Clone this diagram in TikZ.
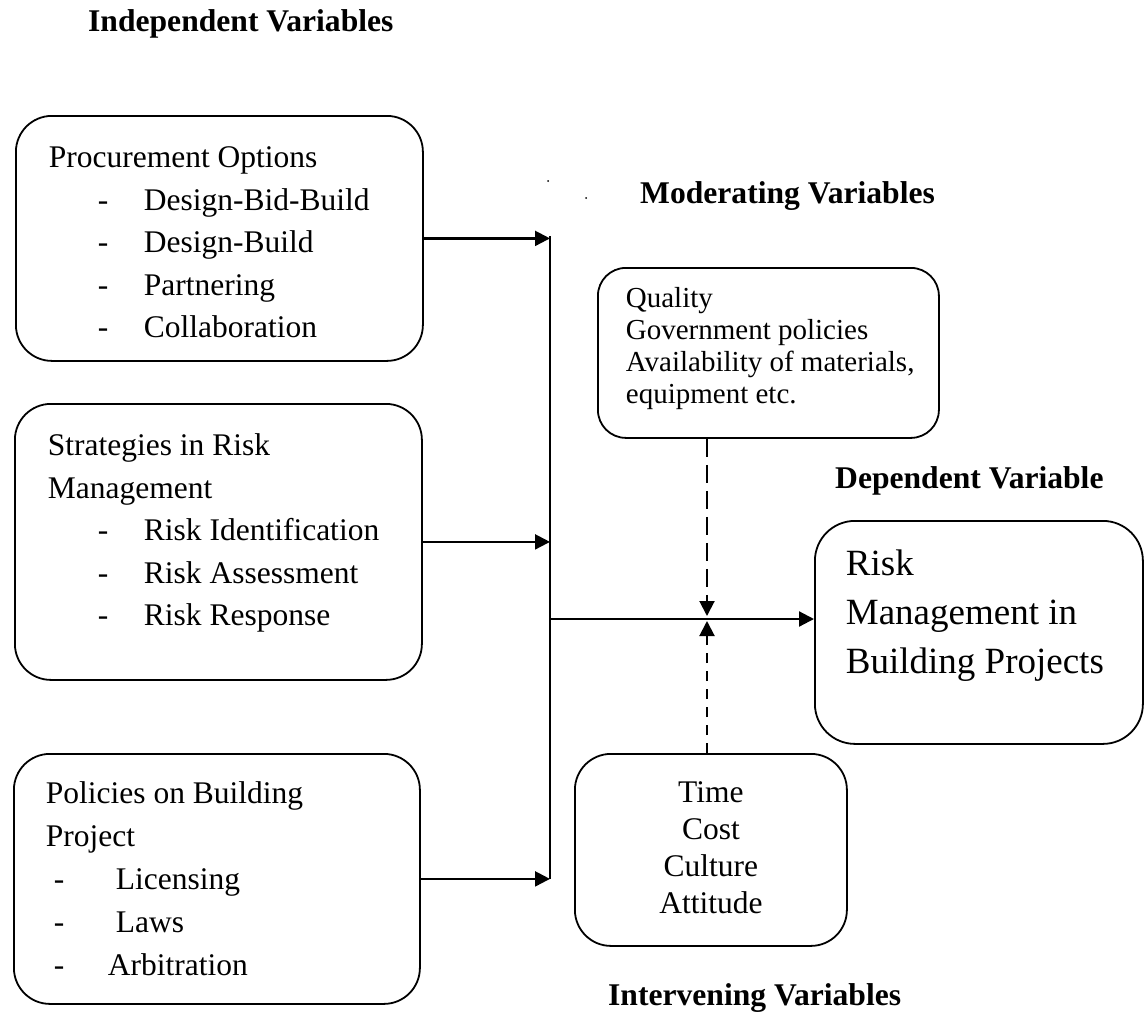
\documentclass[tikz,border=0pt]{standalone}
\usepackage{fontspec}
\setmainfont{Liberation Serif}
\usetikzlibrary{arrows.meta}

\newcommand{\bodyfont}{\fontsize{31.5}{42.5}\selectfont}
\newcommand{\itm}[3]{\makebox[#2][l]{\hspace*{#1}-}#3}
\newcommand{\boxtext}[3]{\parbox[t]{#2}{\raggedright\leftskip=#1\relax #3}}

\tikzset{
  varbox/.style={draw, line width=1.8pt, rounded corners=36pt, inner sep=0pt, anchor=north west},
  heading/.style={font=\fontsize{31.6}{38}\selectfont\bfseries, anchor=base west, inner sep=0pt},
  link/.style={line width=2.2pt},
}

\begin{document}
\begin{tikzpicture}[x=1pt,y=-1pt,>={Triangle[length=15pt,width=15pt]}]
  \useasboundingbox (0,0) rectangle (1144,1012);

  % the headings
  \node[heading] (indep) at (88,31)   {Independent Variables};
  \node[heading] (moder) at (640,203) {Moderating Variables};
  \node[heading] (dept)  at (835,488) {Dependent Variable};
  \node[heading] (inter) at (608,1005) {Intervening Variables};

  % stray marks near the moderating heading
  \fill (548,181) circle (1pt);
  \fill (586,198) circle (1pt);

  % independent variables
  \node[varbox, minimum width=407pt, text height=52pt, text depth=193pt, font=\bodyfont]
    (proc) at (15,115) {\boxtext{33pt}{407pt}{Procurement Options\\
      \itm{49pt}{95pt}{Design-Bid-Build}\\
      \itm{49pt}{95pt}{Design-Build}\\
      \itm{49pt}{95pt}{Partnering}\\
      \itm{49pt}{95pt}{Collaboration}}};
  \node[varbox, minimum width=407pt, text height=52pt, text depth=224pt, font=\bodyfont]
    (strat) at (14,403) {\boxtext{33pt}{407pt}{Strategies in Risk\\
      Management\\
      \itm{50pt}{96pt}{Risk Identification}\\
      \itm{50pt}{96pt}{Risk Assessment}\\
      \itm{50pt}{96pt}{Risk Response}}};
  \node[varbox, minimum width=406pt, text height=50pt, text depth=200pt,
        font=\fontsize{31.5}{43}\selectfont]
    (polic) at (13,753) {\boxtext{32pt}{406pt}{Policies on Building\\
      Project\\
      \itm{8pt}{70pt}{Licensing}\\
      \itm{8pt}{70pt}{Laws}\\
      \itm{8pt}{62pt}{Arbitration}}};

  % moderating, dependent and intervening variables
  \node[varbox, rounded corners=28pt, minimum width=341pt, text height=40pt, text depth=130pt,
        font=\fontsize{29}{32}\selectfont]
    (qual) at (597,267) {\boxtext{28pt}{341pt}{Quality\\
      Government policies\\
      Availability of materials,\\
      equipment etc.}};
  \node[varbox, rounded corners=40pt, minimum width=328pt, text height=55pt, text depth=168pt,
        font=\fontsize{37}{49}\selectfont]
    (risk) at (814,520) {\boxtext{31pt}{328pt}{Risk\\
      Management in\\
      Building Projects}};
  \node[varbox, minimum width=272pt, text height=49pt, text depth=143pt,
        font=\fontsize{31.5}{37}\selectfont]
    (time) at (574,753) {\parbox[t]{272pt}{\centering Time\\ Cost\\ Culture\\ Attitude}};

  % the collecting line and the arrows into it
  \coordinate (bus) at (550,236);
  \coordinate (meet) at (707,619);
  \foreach \b in {proc,strat,polic}
    \draw[->, link] (\b.east) -- (\b.east -| bus);
  \draw[line width=1.8pt] (bus) -- (bus |- polic.east);
  \draw[->, link] (bus |- meet) -- (meet -| risk.west);

  % dashed influences
  \draw[->, line width=2pt, dash pattern=on 18pt off 8pt] (meet |- qual.south) -- ([yshift=3pt]meet);
  \draw[->, line width=2pt, dash pattern=on 10pt off 8pt] (meet |- time.north) -- ([yshift=-2pt]meet);
\end{tikzpicture}
\end{document}
